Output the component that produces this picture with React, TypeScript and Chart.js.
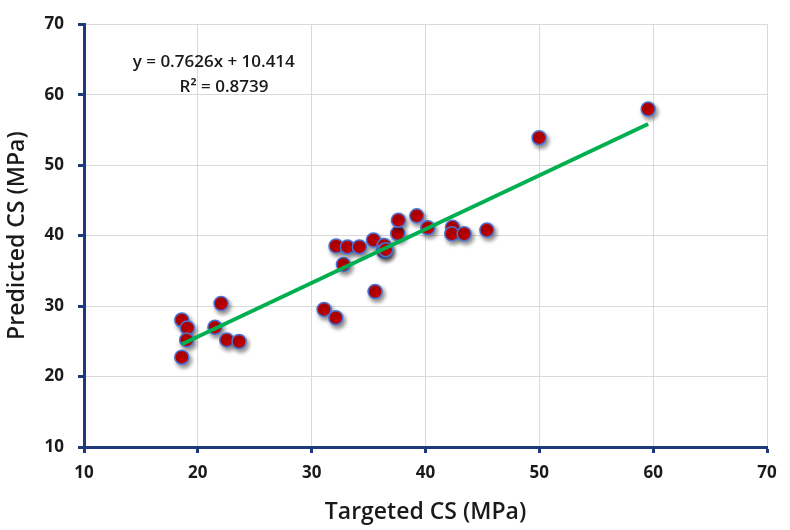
import React, { useEffect, useRef } from "react";
import { Chart, registerables } from "chart.js";
Chart.register(...registerables);

const targetedCS = [18.59, 19.08, 19.02, 18.59, 22.04, 21.5, 22.54, 23.62, 32.79, 35.57, 31.09, 32.12, 32.14, 33.14, 34.19, 35.43, 36.36, 36.3, 36.5, 37.56, 37.62, 39.23, 40.2, 42.37, 42.31, 43.39, 45.39, 49.98, 59.56];
const predictedCS = [28.03, 26.9, 25.2, 22.75, 30.37, 26.98, 25.2, 24.97, 35.9, 32.07, 29.53, 28.35, 38.53, 38.39, 38.39, 39.37, 38.6, 37.8, 38.0, 40.31, 42.19, 42.8, 41.1, 41.2, 40.26, 40.26, 40.78, 53.9, 57.96];
const trendX = [18.59, 59.56];
const trendY = [24.59, 55.83];
const eqLines = ["y = 0.7626x + 10.414", "R\u00b2 = 0.8739"];
const axisTicks = [10, 20, 30, 40, 50, 60, 70];

const FONT = "'Open Sans', 'Liberation Sans', sans-serif";
const NAVY = "#1f3a7a";
const TXT = "#1a1a1a";

export default function App() {
  const ref = useRef<HTMLCanvasElement>(null);
  useEffect(() => {
    document.body.style.margin = "0";
    const ctx = ref.current!.getContext("2d")!;
    const shadowPlugin = {
      id: "shadowPts",
      beforeDatasetDraw(chart: any, args: any) {
        if (args.index === 0) {
          const c = chart.ctx;
          c.save();
          c.shadowColor = "rgba(0,0,0,0.45)";
          c.shadowBlur = 4;
          c.shadowOffsetX = 2;
          c.shadowOffsetY = 3;
        }
      },
      afterDatasetDraw(chart: any, args: any) {
        if (args.index === 0) chart.ctx.restore();
      },
    };
    const eqPlugin = {
      id: "eqText",
      afterDraw(chart: any) {
        const c = chart.ctx;
        const xs = chart.scales.x;
        const ys = chart.scales.y;
        c.save();
        c.fillStyle = TXT;
        c.font = `600 17px ${FONT}`;
        c.textAlign = "center";
        c.textBaseline = "middle";
        c.fillText(eqLines[0], xs.getPixelForValue(21.4), ys.getPixelForValue(64.6));
        c.fillText(eqLines[1], xs.getPixelForValue(22.3), ys.getPixelForValue(61.0));
        c.restore();
      },
    };
    const chart = new Chart(ctx, {
      type: "scatter",
      data: {
        datasets: [
          {
            type: "scatter",
            data: targetedCS.map((x, i) => ({ x, y: predictedCS[i] })),
            backgroundColor: "#c00000",
            borderColor: "#4a72d4",
            borderWidth: 1.5,
            pointRadius: 7,
            order: 1,
          },
          {
            type: "line",
            data: trendX.map((x, i) => ({ x, y: trendY[i] })),
            borderColor: "#00b050",
            borderWidth: 4,
            pointRadius: 0,
            fill: false,
            order: 0,
          } as any,
        ],
      },
      options: {
        animation: false,
        responsive: false,
        layout: { padding: { top: 22, right: 23, left: 0, bottom: 0 } },
        plugins: { legend: { display: false }, tooltip: { enabled: false } },
        scales: {
          x: {
            type: "linear",
            min: 10,
            max: 70,
            afterBuildTicks: (s: any) => { s.ticks = axisTicks.map((v) => ({ value: v })); },
            afterFit: (s: any) => { s.height = 83; },
            grid: { color: "#d9d9d9", lineWidth: 1, tickColor: NAVY, tickLength: 6, tickWidth: 3 } as any,
            border: { color: NAVY, width: 3 },
            ticks: { color: TXT, font: { family: FONT, size: 17, weight: "bold" }, padding: 10 },
            title: { display: true, text: "Targeted CS (MPa)", color: TXT, font: { family: FONT, size: 23, weight: "600" }, padding: { top: 6 } },
          },
          y: {
            type: "linear",
            min: 10,
            max: 70,
            afterBuildTicks: (s: any) => { s.ticks = axisTicks.map((v) => ({ value: v })); },
            afterFit: (s: any) => { s.width = 84; },
            grid: { color: "#d9d9d9", lineWidth: 1, tickColor: NAVY, tickLength: 6, tickWidth: 3 } as any,
            border: { color: NAVY, width: 3 },
            ticks: { color: TXT, font: { family: FONT, size: 17, weight: "bold" }, padding: 14 },
            title: { display: true, text: "Predicted CS (MPa)", color: TXT, font: { family: FONT, size: 23, weight: "600" }, padding: { bottom: 0 } },
          },
        },
      },
      plugins: [shadowPlugin, eqPlugin],
    });
    return () => chart.destroy();
  }, []);
  return (
    <div style={{ width: 790, height: 530, background: "#fff" }}>
      <canvas ref={ref} width={790} height={530} />
    </div>
  );
}
